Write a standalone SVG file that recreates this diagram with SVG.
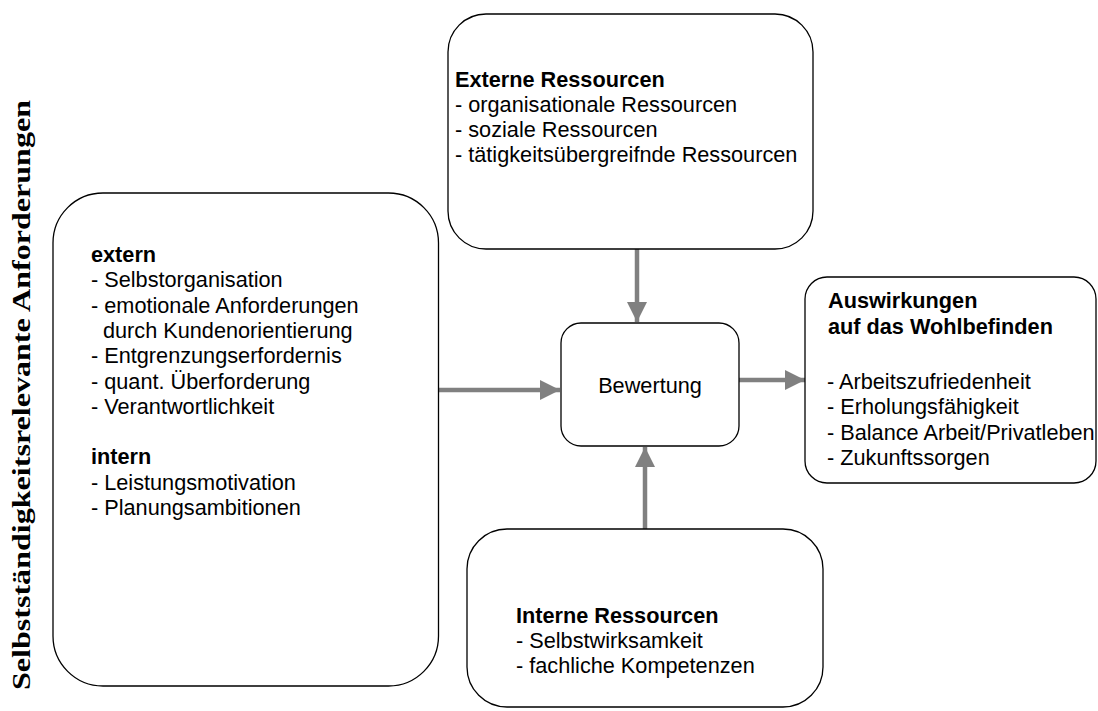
<svg xmlns="http://www.w3.org/2000/svg" width="1098" height="711" viewBox="0 0 1098 711">
  <style>
    .box { fill: #ffffff; stroke: #000000; stroke-width: 1.3; }
    .txt { font-family: "Liberation Sans", Arial, sans-serif; font-size: 21.7px; fill: #000000; }
    .b { font-weight: bold; }
    .title { font-family: "Liberation Serif", "Times New Roman", serif; font-weight: bold; font-size: 25px; fill: #000000; }
    .conn { stroke: #808080; stroke-width: 4.5; fill: none; }
    .head { fill: #808080; stroke: none; }
  </style>
  <defs>
    <marker id="arrow" markerUnits="userSpaceOnUse" markerWidth="20" markerHeight="20" refX="20" refY="10" orient="auto" viewBox="0 0 20 20">
      <path class="head" d="M0,0 L20,10 L0,20 Z"/>
    </marker>
  </defs>

  <!-- rotated side title -->
  <text class="title" transform="translate(30,395) rotate(-90)" text-anchor="middle" textLength="590" lengthAdjust="spacingAndGlyphs">Selbstständigkeitsrelevante Anforderungen</text>

  <!-- connectors -->
  <g id="connectors">
    <line class="conn" x1="637" y1="249" x2="637" y2="322" marker-end="url(#arrow)"/>
    <line class="conn" x1="439" y1="390" x2="560" y2="390" marker-end="url(#arrow)"/>
    <line class="conn" x1="739" y1="380" x2="805" y2="380" marker-end="url(#arrow)"/>
    <line class="conn" x1="645" y1="529" x2="645" y2="447" marker-end="url(#arrow)"/>
  </g>

  <g id="externe-ressourcen">
    <rect class="box" x="448" y="14" width="365" height="235" rx="38" ry="38"/>
    <text class="txt">
      <tspan class="b" x="455" y="87">Externe Ressourcen</tspan>
      <tspan x="455" y="112">- organisationale Ressourcen</tspan>
      <tspan x="455" y="137">- soziale Ressourcen</tspan>
      <tspan x="455" y="162">- tätigkeitsübergreifnde Ressourcen</tspan>
    </text>
  </g>

  <g id="anforderungen">
    <rect class="box" x="53" y="193" width="385.5" height="493" rx="50" ry="50"/>
    <text class="txt">
      <tspan class="b" x="91" y="262">extern</tspan>
      <tspan x="91" y="287.3">- Selbstorganisation</tspan>
      <tspan x="91" y="312.6">- emotionale Anforderungen</tspan>
      <tspan x="103" y="337.9">durch Kundenorientierung</tspan>
      <tspan x="91" y="363.2">- Entgrenzungserfordernis</tspan>
      <tspan x="91" y="388.5">- quant. Überforderung</tspan>
      <tspan x="91" y="413.8">- Verantwortlichkeit</tspan>
      <tspan class="b" x="91" y="464.4">intern</tspan>
      <tspan x="91" y="489.7">- Leistungsmotivation</tspan>
      <tspan x="91" y="515">- Planungsambitionen</tspan>
    </text>
  </g>

  <g id="bewertung">
    <rect class="box" x="561" y="323" width="178" height="123" rx="20" ry="20"/>
    <text class="txt" x="650" y="393" text-anchor="middle">Bewertung</text>
  </g>

  <g id="auswirkungen">
    <rect class="box" x="805" y="277" width="291" height="206" rx="22" ry="22"/>
    <text class="txt">
      <tspan class="b" x="828" y="308">Auswirkungen</tspan>
      <tspan class="b" x="828" y="334">auf das Wohlbefinden</tspan>
      <tspan x="827" y="389">- Arbeitszufriedenheit</tspan>
      <tspan x="827" y="414">- Erholungsfähigkeit</tspan>
      <tspan x="827" y="440">- Balance Arbeit/Privatleben</tspan>
      <tspan x="827" y="465">- Zukunftssorgen</tspan>
    </text>
  </g>

  <g id="interne-ressourcen">
    <rect class="box" x="467" y="529" width="356" height="178" rx="40" ry="40"/>
    <text class="txt">
      <tspan class="b" x="516" y="623">Interne Ressourcen</tspan>
      <tspan x="516" y="648">- Selbstwirksamkeit</tspan>
      <tspan x="516" y="673">- fachliche Kompetenzen</tspan>
    </text>
  </g>
</svg>
